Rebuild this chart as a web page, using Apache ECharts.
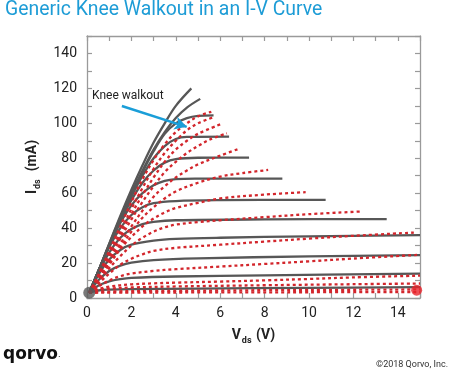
<!DOCTYPE html>
<html>
<head>
<meta charset="utf-8">
<script src="https://cdn.jsdelivr.net/npm/echarts@6/dist/echarts.min.js"></script>
<style>html,body{margin:0;padding:0;background:#fff;}#c{width:449px;height:374px;}</style>
</head>
<body>
<div id="c"></div>
<script>
// Axis ticks
var xTicks = [0, 2, 4, 6, 8, 10, 12, 14];
var yTicks = [0, 20, 40, 60, 80, 100, 120, 140];

// Gray (solid) I-V curves: [Vds, Ids]
var g1 = [[0.1,3],[0.5,15],[1,31],[1.5,47],[2,62],[2.5,76],[3,89],[3.5,100],[4,110],[4.7,120]];
var g2 = [[0.1,3],[0.5,15],[1,31],[1.5,46],[2,60],[2.5,73],[3,85],[3.5,95],[4,103],[4.5,109],[5.1,114]];
var g3 = [[0.1,3],[0.5,15],[1,30],[1.5,45],[2,59],[2.5,72],[3,84],[3.5,94],[4,100],[4.5,103],[5,104.3],[5.7,104.6]];
var g4 = [[0.1,3],[0.5,15],[1,30],[1.5,45],[2,58],[2.5,70],[3,80],[3.5,87],[4,91],[4.5,92.2],[6.4,92.4]];
var g5 = [[0.1,3],[0.5,15],[1,30],[1.5,44],[2,56],[2.5,66],[3,73],[3.5,77.5],[4,79.5],[5,80.3],[7.3,80.4]];
var g6 = [[0.1,3],[0.5,15],[1,30],[1.5,43],[2,53],[2.5,60],[3,64.5],[3.5,67],[4,68],[5,68.3],[8.8,68.4]];
var g7 = [[0.1,3],[0.5,15],[1,29],[1.5,40],[2,47.5],[2.5,52],[3,54.3],[4,55.5],[6,56],[10.75,56.2]];
var g8 = [[0.1,3],[0.5,14],[1,26],[1.5,34.5],[2,39.5],[2.5,42.3],[3,43.6],[4,44.5],[8,45],[13.5,45.2]];
var g9 = [[0.1,3],[0.5,13],[1,22],[1.5,27.5],[2,30.5],[3,32.8],[4,33.8],[6,34.5],[10,35.3],[15,36]];
var g10 = [[0.1,3],[0.5,10],[1,15.5],[1.5,18.5],[2,20.2],[3,21.7],[5,22.7],[10,23.8],[15,24.6]];
var g11 = [[0.1,3],[0.5,7],[1,9.5],[1.5,10.8],[2,11.5],[4,12.3],[8,13],[15,14]];
var g12 = [[0.1,3],[0.5,4.3],[1,4.8],[2,5.1],[5,5.4],[10,5.8],[15,6.2]];
var grayCurves = [g1, g2, g3, g4, g5, g6, g7, g8, g9, g10, g11, g12];

// Red (dotted) I-V curves showing knee walkout
var r1 = [[0.1,3],[0.5,13],[1,27],[1.5,41],[2,55],[2.5,68],[3,79],[3.5,88],[4,95],[4.5,100],[5,104],[5.6,106.6]];
var r2 = [[0.1,3],[0.5,12],[1,25],[1.5,38],[2,51],[2.5,63],[3,74],[3.5,83],[4,90],[4.5,96],[5,100],[5.76,103.8]];
var r3 = [[0.1,3],[0.5,12],[1,24],[1.5,36],[2,48],[2.5,59],[3,69],[3.5,78],[4,85],[4.5,90],[5,94],[6,99.4]];
var r4 = [[0.1,3],[0.5,11],[1,22],[1.5,34],[2,45],[2.5,55],[3,64],[3.5,72],[4,78],[4.5,83],[5,87],[5.5,90.5],[6.3,94.3]];
var r5 = [[0.1,3],[0.5,11],[1,21],[1.5,31],[2,41],[2.5,50],[3,58],[3.5,64],[4,69],[4.5,73],[5,76.5],[6,81.5],[6.9,85.7]];
var r6 = [[0.1,3],[0.5,10],[1,20],[1.5,29],[2,38],[2.5,46],[3,52],[3.5,57],[4,61],[5,66],[6,69.5],[7,71.5],[8.16,73.3]];
var r7 = [[0.1,3],[0.5,10],[1,19],[1.5,28],[2,35],[2.5,41],[3,45.5],[3.5,49],[4,51.5],[5,54.5],[6,57],[8,59.2],[9.85,60.6]];
var r8 = [[0.1,3],[0.5,9],[1,17],[1.5,24],[2,30],[2.5,34.5],[3,38],[3.5,40.5],[4,42],[5,43.5],[6,44.5],[8,46.3],[10,48],[12.3,49.5]];
var r9 = [[0.1,3],[0.5,8],[1,14],[1.5,19],[2,22.5],[2.5,25],[3,27],[4,28.7],[6,30.5],[8,32.3],[10,34],[12,35.6],[14.8,37.5]];
var r10 = [[0.1,3],[0.5,6.5],[1,10],[1.5,12.5],[2,14],[3,15.5],[4,16.5],[6,18],[8,19.5],[10,21],[12,22.6],[14.9,24.7]];
var r11 = [[0.1,3],[0.5,5],[1,6.5],[2,7.8],[3,8.4],[4,8.8],[6,9.4],[8,10.1],[10,10.9],[12,11.8],[15,12.8]];
var r12 = [[0.1,3],[0.5,4.5],[1,5.3],[2,6],[4,6.6],[8,7.3],[12,7.9],[15,8.3]];
var r13 = [[0.1,3],[1,3.7],[3,4],[6,4.3],[10,4.6],[15,4.9]];
var r14 = [[0.1,3],[2,3.1],[6,3.2],[10,3.3],[15,3.4]];
var redCurves = [r1, r2, r3, r4, r5, r6, r7, r8, r9, r10, r11, r12, r13, r14];

// End markers
var grayMarker = [[0.1, 3]];
var redMarker = [[14.85, 4.5]];

// Annotation arrow (data coords)
var arrowStart = [1.57, 109.9];
var arrowEnd = [4.49, 98];

var AXC = '#9a9a9a';
var FONT = 'Roboto, "Open Sans", sans-serif';

function baseAxis(extra) {
  var o = {
    type: 'value',
    axisLine: { show: true, onZero: false, lineStyle: { color: AXC, width: 1.3 } },
    axisTick: { show: true, inside: true, length: 5, lineStyle: { color: AXC, width: 1.2 } },
    splitLine: { show: false },
    minorTick: { show: false }
  };
  for (var k in extra) o[k] = extra[k];
  return o;
}

var series = [];
grayCurves.forEach(function (c) {
  series.push({
    type: 'line', data: c, smooth: 0.35, symbol: 'none', silent: true,
    lineStyle: { color: '#575757', width: 2.3 }, z: 2
  });
});
redCurves.forEach(function (c) {
  series.push({
    type: 'line', data: c, smooth: 0.35, symbol: 'none', silent: true,
    lineStyle: { color: '#d3262c', width: 2.3, type: [3, 3] }, z: 3
  });
});
series.push({
  type: 'scatter', data: grayMarker, symbolSize: 12, itemStyle: { color: '#575757' }, z: 5, silent: true
});
series.push({
  type: 'scatter', data: redMarker, symbolSize: 11, itemStyle: { color: '#e8232a' }, z: 5, silent: true,
  markLine: {
    silent: true, symbol: ['none', 'arrow'], symbolSize: [10, 12], animation: false,
    label: { show: false },
    lineStyle: { color: '#1a9ed8', width: 2.5, type: 'solid' },
    data: [[{ coord: arrowStart }, { coord: arrowEnd }]]
  }
});

var chart = echarts.init(document.getElementById('c'), null, { renderer: 'canvas' });
chart.setOption({
  animation: false,
  backgroundColor: '#fff',
  grid: { left: 87, right: 29, top: 36, bottom: 76 },
  xAxis: [
    baseAxis({
      min: 0, max: 15, interval: 1, position: 'bottom',
      axisLabel: {
        color: '#222', fontSize: 14, fontFamily: FONT, margin: 8,
        formatter: function (v) { return xTicks.indexOf(v) >= 0 ? String(v) : ''; }
      },
      name: '{b|V}{s|ds}{b| (V)}', nameLocation: 'middle', nameGap: 28,
      nameTextStyle: {
        rich: {
          b: { fontSize: 14, fontWeight: 'bold', color: '#222', fontFamily: FONT },
          s: { fontSize: 9, fontWeight: 'bold', color: '#222', fontFamily: FONT, padding: [10, 1, 0, 1] }
        }
      }
    }),
    baseAxis({ min: 0, max: 15, interval: 1, position: 'top', axisLabel: { show: false } })
  ],
  yAxis: [
    baseAxis({
      min: 0, max: 150, interval: 10, position: 'left',
      axisLabel: {
        color: '#222', fontSize: 14, fontFamily: FONT, margin: 10,
        formatter: function (v) { return yTicks.indexOf(v) >= 0 ? String(v) : ''; }
      },
      name: '{b|I}{s|ds}{b|  (mA)}', nameLocation: 'middle', nameGap: 42, nameRotate: 90,
      nameTextStyle: {
        rich: {
          b: { fontSize: 14, fontWeight: 'bold', color: '#222', fontFamily: FONT },
          s: { fontSize: 9, fontWeight: 'bold', color: '#222', fontFamily: FONT, padding: [10, 1, 0, 1] }
        }
      }
    }),
    baseAxis({ min: 0, max: 150, interval: 10, position: 'right', axisLabel: { show: false } })
  ],
  graphic: [
    { type: 'text', left: 5, top: 1, style: { text: 'Generic Knee Walkout in an I-V Curve', fill: '#1d9cd6', font: '19.4px Roboto, "Open Sans", sans-serif' } },
    { type: 'text', left: 92, top: 90, style: { text: 'Knee walkout', fill: '#222', font: '12px Roboto, "Open Sans", sans-serif' } },
    { type: 'text', left: 3, top: 346, style: { text: 'qorvo', fill: '#111', font: 'bold 17px "DejaVu Sans", sans-serif' } },
    { type: 'text', left: 58, top: 351, style: { text: '.', fill: '#111', font: '8px "DejaVu Sans", sans-serif' } },
    { type: 'text', right: 1, top: 360, style: { text: '\u00a92018 Qorvo, Inc.', fill: '#333', font: '9px Roboto, "Open Sans", sans-serif' } }
  ],
  series: series
});
</script>
</body>
</html>
